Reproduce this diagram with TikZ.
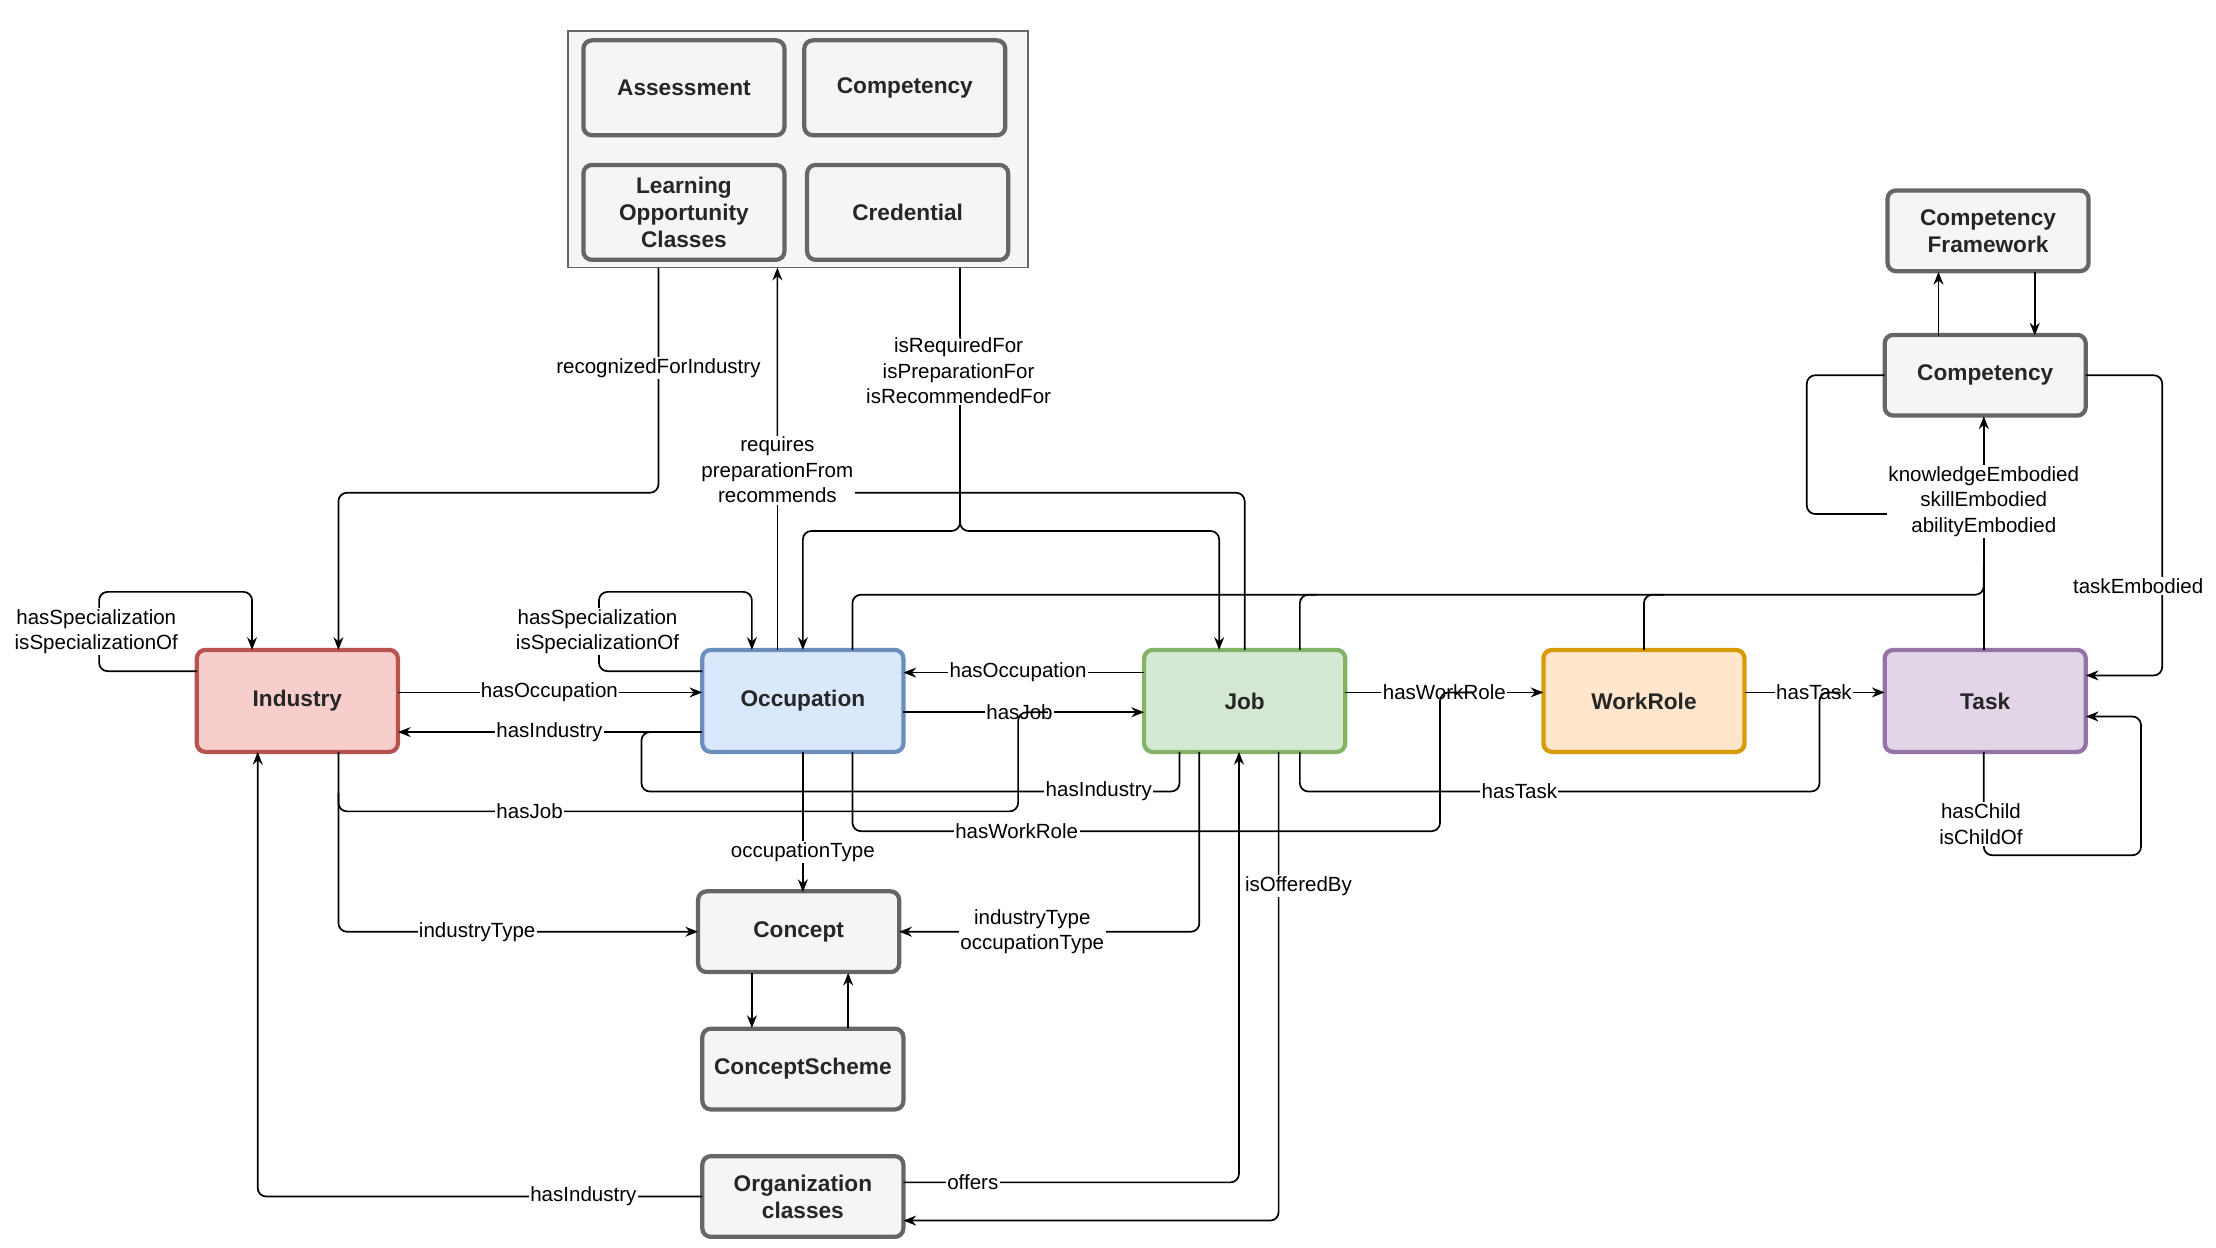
\documentclass[tikz,border=0pt]{standalone}
\usepackage{fontspec}
\setmainfont{Liberation Sans}
\usetikzlibrary{arrows.meta}
\definecolor{gF}{HTML}{F5F5F5}\definecolor{gS}{HTML}{666666}
\definecolor{g}{HTML}{666666}
\definecolor{HF}{HTML}{F8CECC}\definecolor{HB}{HTML}{B85450}
\definecolor{OF}{HTML}{DAE8FC}\definecolor{OB}{HTML}{6C8EBF}
\definecolor{JF}{HTML}{D5E8D4}\definecolor{JB}{HTML}{82B366}
\definecolor{WF}{HTML}{FFE6CC}\definecolor{WB}{HTML}{D79B00}
\definecolor{TF}{HTML}{E1D5E7}\definecolor{TB}{HTML}{9673A6}
\begin{document}
\begin{tikzpicture}[x=1pt,y=-1pt,
 box/.style={line width=3pt, rounded corners=6pt, minimum width=142pt, align=center, font=\fontsize{16}{19}\selectfont\bfseries, text=black!85},
 gbox/.style={box, draw=gS, fill=gF, minimum height=57pt},
 cbox/.style={box, minimum height=72pt},
 lbl/.style={fill=white, inner sep=1pt, align=center, font=\fontsize{14.5}{18}\selectfont},
 ar/.style={-{Stealth[length=9pt,width=7pt]}, line width=1.2pt, rounded corners=6pt},
 ln/.style={line width=1.2pt, rounded corners=6pt}]
\useasboundingbox (0,0) rectangle (1565,881);
\node[draw=gS,fill=gF,line width=1pt,minimum width=325pt,minimum height=167pt] (grp) at (563.5,105.5) {};
\node[gbox,minimum height=67pt] (asm) at (483,62) {Assessment};
\node[gbox,minimum height=67pt] (cmp1) at (639,62) {Competency};
\node[gbox,minimum height=67pt] (loc) at (483,150) {Learning\\Opportunity\\Classes};
\node[gbox,minimum height=67pt] (cred) at (641,150) {Credential};
\node[gbox] (cf) at (1404,163) {Competency\\Framework};
\node[gbox] (cmp) at (1402,265) {Competency};
\node[cbox,draw=HB,fill=HF] (ind) at (210,495) {Industry};
\node[cbox,draw=OB,fill=OF] (occ) at (567,495) {Occupation};
\node[cbox,draw=JB,fill=JF] (job) at (879,495) {Job};
\node[cbox,draw=WB,fill=WF] (wr) at (1161,495) {WorkRole};
\node[cbox,draw=TB,fill=TF] (task) at (1402,495) {Task};
\node[gbox] (con) at (564,658) {Concept};
\node[gbox] (cs) at (567,755) {ConceptScheme};
\node[gbox] (org) at (567,845) {Organization\\classes};
% self loops
\draw[ar] (139,474) -- (70,474) -- (70,418) -- (178,418) -- (178,459);
\node[lbl] at (68,446) {hasSpecialization\\isSpecializationOf};
\draw[ar] (496,474) -- (423,474) -- (423,418) -- (531,418) -- (531,459);
\node[lbl] at (422,446) {hasSpecialization\\isSpecializationOf};
% group edges
\draw[ar] (465,189) -- (465,348) -- (239,348) -- (239,459);
\node[lbl] at (465,260) {recognizedForIndustry};
\draw[ar] (879,459) -- (879,348) -- (549,348) -- (549,189);
\draw[ln] (549,459) -- (549,350);
\node[lbl] at (549,332) {requires\\preparationFrom\\recommends};
\draw[ar] (678,189) -- (678,375) -- (567,375) -- (567,459);
\draw[ar] (678,360) -- (678,375) -- (861,375) -- (861,459);
\node[lbl] at (677,262) {isRequiredFor\\isPreparationFor\\isRecommendedFor};
% horizontal
\draw[ar] (281,489) -- (496,489); \node[lbl] at (388,489) {hasOccupation};
\draw[ar] (496,517) -- (281,517); \node[lbl] at (388,517) {hasIndustry};
\draw[ar] (808,475) -- (638,475); \node[lbl] at (719,475) {hasOccupation};
\draw[ar] (638,503) -- (808,503); \node[lbl] at (720,503) {hasJob};
\draw[ln] (833,531) -- (833,559) -- (453,559) -- (453,517) -- (470,517);
\node[lbl] at (776,559) {hasIndustry};
\draw[ln] (239,531) -- (239,573) -- (719,573) -- (719,503) -- (740,503);
\node[lbl] at (374,573) {hasJob};
\draw[ar] (950,489) -- (1090,489); \node[lbl] at (1020,489) {hasWorkRole};
\draw[ln] (602,531) -- (602,587) -- (1017,587) -- (1017,489) -- (1040,489);
\node[lbl] at (718,587) {hasWorkRole};
\draw[ar] (1232,489) -- (1331,489); \node[lbl] at (1281,489) {hasTask};
\draw[ln] (918,531) -- (918,559) -- (1285,559) -- (1285,489) -- (1300,489);
\node[lbl] at (1073,559) {hasTask};
% embodied
\draw[ar] (1401,459) -- (1401,294);
\draw[ln] (602,459) -- (602,420) -- (1401,420) -- (1401,400);
\draw[ln] (918,459) -- (918,420) -- (930,420);
\draw[ln] (1161,459) -- (1161,420) -- (1175,420);
\draw[ln] (1331,265) -- (1276,265) -- (1276,363) -- (1401,363);
\node[lbl] at (1401,354) {knowledgeEmbodied\\skillEmbodied\\abilityEmbodied};
\draw[ar] (1473,265) -- (1527,265) -- (1527,477) -- (1473,477);
\node[lbl] at (1510,414) {taskEmbodied};
\draw[ar] (1369,237) -- (1369,192);
\draw[ar] (1437,192) -- (1437,237);
\draw[ar] (1401,531) -- (1401,604) -- (1512,604) -- (1512,506) -- (1473,506);
\node[lbl] at (1399,582) {hasChild\\isChildOf};
% concept
\draw[ar] (567,531) -- (567,630); \node[lbl] at (567,602) {occupationType};
\draw[ar] (239,560) -- (239,658) -- (493,658); \node[lbl] at (337,658) {industryType};
\draw[ar] (847,531) -- (847,658) -- (635,658); \node[lbl] at (729,658) {industryType\\occupationType};
\draw[ar] (531,687) -- (531,726);
\draw[ar] (599,726) -- (599,687);
% organization
\draw[ar] (496,845) -- (182,845) -- (182,531); \node[lbl] at (412,845) {hasIndustry};
\draw[ar] (638,835) -- (875,835) -- (875,531); \node[lbl] at (687,835) {offers};
\draw[ar] (903,531) -- (903,862) -- (638,862); \node[lbl] at (917,626) {isOfferedBy};
\end{tikzpicture}
\end{document}
